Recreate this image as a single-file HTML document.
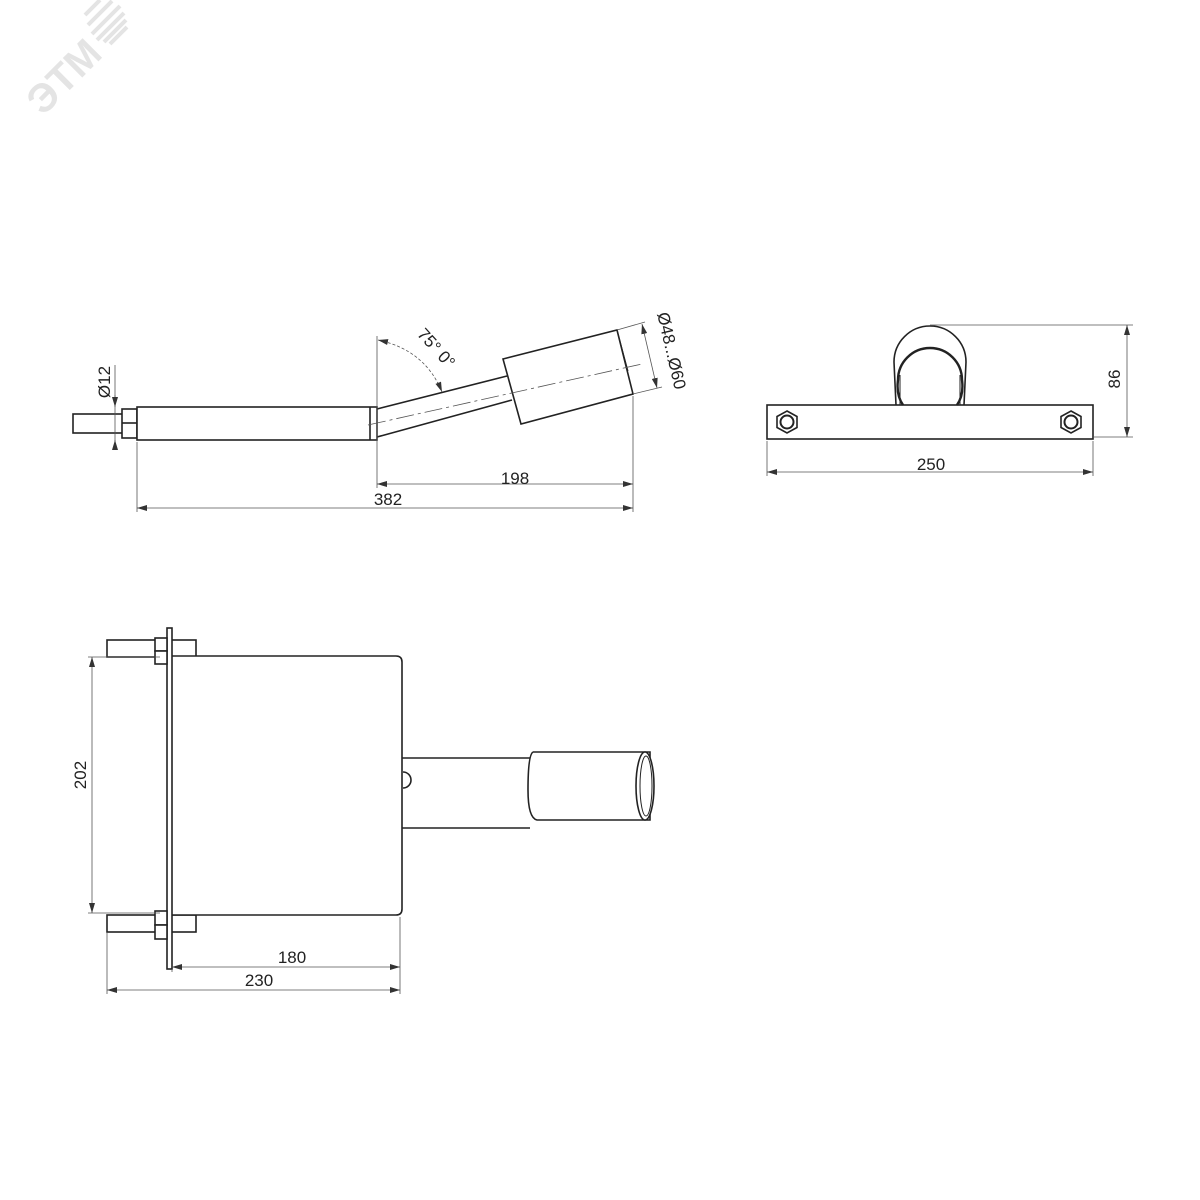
<!DOCTYPE html>
<html><head><style>
html,body{margin:0;padding:0;background:#fff}
svg{display:block}
text{font-family:"Liberation Sans",sans-serif;font-size:17px;fill:#222}
</style></head><body>
<svg width="1200" height="1200" viewBox="0 0 1200 1200" xmlns="http://www.w3.org/2000/svg">
<defs>
<marker id="a" viewBox="0 0 10 6" refX="10" refY="3" markerWidth="10" markerHeight="6" orient="auto-start-reverse" markerUnits="userSpaceOnUse"><path d="M0,0 L10,3 L0,6 z" fill="#333"/></marker>
</defs>
<!-- logo -->
<g transform="translate(60,80) rotate(-45)" fill="#e4e4e4">
<text x="-38" y="14" style="font-size:40px;font-weight:bold;fill:#e4e4e4">ЭТМ</text>
</g>
<g stroke="#e4e4e4" stroke-width="4">
<line x1="85" y1="15" x2="100" y2="0"/><line x1="88" y1="25" x2="112" y2="1"/><line x1="92" y1="34" x2="120" y2="6"/><line x1="97" y1="40" x2="124" y2="13"/><line x1="104" y1="42" x2="126" y2="20"/><line x1="110" y1="44" x2="127" y2="27"/>
</g>

<g fill="none" stroke="#222" stroke-width="1.6">
<!-- side view -->
<rect x="73" y="414" width="64" height="19"/>
<rect x="122" y="409" width="15" height="29" fill="#fff"/>
<line x1="122" y1="423" x2="137" y2="423"/>
<rect x="137" y="407" width="240" height="33" fill="#fff"/>
<line x1="370" y1="407" x2="370" y2="440"/>
<line x1="377" y1="409" x2="507" y2="376"/>
<line x1="377" y1="437" x2="512" y2="400"/>
<polygon points="503,359 617,330 633,394 521,424" fill="#fff"/>
<line x1="617" y1="330" x2="628" y2="371" stroke-width="1"/>
<!-- front view -->
<rect x="767" y="405" width="326" height="34"/>
<path d="M896,405 L894,362 A36,36 0 0 1 966,362 L964,405"/>
<path d="M903,405 Q896,395 898,380 A32,32 0 0 1 962,380 Q964,395 957,405" stroke-width="2.4"/>
<line x1="900" y1="375" x2="900" y2="405" stroke-width="1"/><line x1="960" y1="375" x2="960" y2="405" stroke-width="1"/>
<polygon points="787,411 797,416.5 797,427.5 787,433 777,427.5 777,416.5"/>
<circle cx="787" cy="422" r="6.5" stroke-width="2"/>
<polygon points="1071,411 1081,416.5 1081,427.5 1071,433 1061,427.5 1061,416.5"/>
<circle cx="1071" cy="422" r="6.5" stroke-width="2"/>
<!-- top view -->
<rect x="107" y="640" width="89" height="17"/>
<rect x="107" y="915" width="89" height="17"/>
<path d="M172,656 L396,656 Q402,656 402,662 L402,909 Q402,915 396,915 L172,915" fill="#fff"/>
<rect x="167" y="628" width="5" height="341" fill="#fff"/>
<rect x="155" y="638" width="12" height="13" fill="#fff"/><rect x="155" y="651" width="12" height="13" fill="#fff"/>
<rect x="155" y="911" width="12" height="14" fill="#fff"/><rect x="155" y="925" width="12" height="14" fill="#fff"/>
<path d="M403,772 A8,8 0 0 1 403,788"/>
<line x1="402" y1="758" x2="530" y2="758"/>
<line x1="402" y1="828" x2="530" y2="828"/>
<path d="M533,752 L650,752 L650,820 L537,820 Q528,818 528,790 Q528,755 533,752" fill="#fff"/>
<ellipse cx="645" cy="786" rx="9" ry="34" fill="#fff"/>
<ellipse cx="646" cy="786" rx="6" ry="30" stroke-width="1"/>
</g>

<g fill="none" stroke="#555" stroke-width="0.8">
<!-- centerline -->
<path d="M368,425 L642,364" stroke-dasharray="18,4,3,4"/>
<!-- side dims -->
<line x1="137" y1="442" x2="137" y2="512"/>
<line x1="377" y1="336" x2="377" y2="488"/>
<line x1="633" y1="396" x2="633" y2="512"/>
<line x1="377" y1="484" x2="633" y2="484" marker-start="url(#a)" marker-end="url(#a)"/>
<line x1="137" y1="508" x2="633" y2="508" marker-start="url(#a)" marker-end="url(#a)"/>
<line x1="115" y1="365" x2="115" y2="446"/>
<line x1="115" y1="395" x2="115" y2="407" marker-end="url(#a)"/>
<line x1="115" y1="448" x2="115" y2="440" marker-end="url(#a)"/>
<path d="M378,340 Q425,350 442,392" stroke-dasharray="3,2" marker-start="url(#a)" marker-end="url(#a)"/>
<line x1="617" y1="330" x2="645" y2="322"/>
<line x1="633" y1="394" x2="662" y2="387"/>
<line x1="642" y1="324" x2="657" y2="388" marker-start="url(#a)" marker-end="url(#a)"/>
<!-- front dims -->
<line x1="930" y1="325" x2="1133" y2="325"/>
<line x1="1093" y1="437" x2="1133" y2="437"/>
<line x1="1127" y1="325" x2="1127" y2="437" marker-start="url(#a)" marker-end="url(#a)"/>
<line x1="767" y1="441" x2="767" y2="476"/>
<line x1="1093" y1="441" x2="1093" y2="476"/>
<line x1="767" y1="472" x2="1093" y2="472" marker-start="url(#a)" marker-end="url(#a)"/>
<!-- top dims -->
<line x1="88" y1="657" x2="160" y2="657"/>
<line x1="88" y1="913" x2="160" y2="913"/>
<line x1="92" y1="657" x2="92" y2="913" marker-start="url(#a)" marker-end="url(#a)"/>
<line x1="172" y1="970" x2="172" y2="972"/>
<line x1="400" y1="917" x2="400" y2="994"/>
<line x1="107" y1="933" x2="107" y2="994"/>
<line x1="172" y1="967" x2="400" y2="967" marker-start="url(#a)" marker-end="url(#a)"/>
<line x1="107" y1="990" x2="400" y2="990" marker-start="url(#a)" marker-end="url(#a)"/>
</g>

<text x="515" y="484" text-anchor="middle">198</text>
<text x="388" y="505" text-anchor="middle">382</text>
<text transform="translate(110,382) rotate(-90)" text-anchor="middle">Ø12</text>
<text transform="translate(432,352) rotate(48)" text-anchor="middle">75° 0°</text>
<text transform="translate(666,352) rotate(77)" text-anchor="middle">Ø48...Ø60</text>
<text transform="translate(1120,379) rotate(-90)" text-anchor="middle">86</text>
<text x="931" y="470" text-anchor="middle">250</text>
<text transform="translate(86,775) rotate(-90)" text-anchor="middle">202</text>
<text x="292" y="963" text-anchor="middle">180</text>
<text x="259" y="986" text-anchor="middle">230</text>
</svg>
</body></html>
